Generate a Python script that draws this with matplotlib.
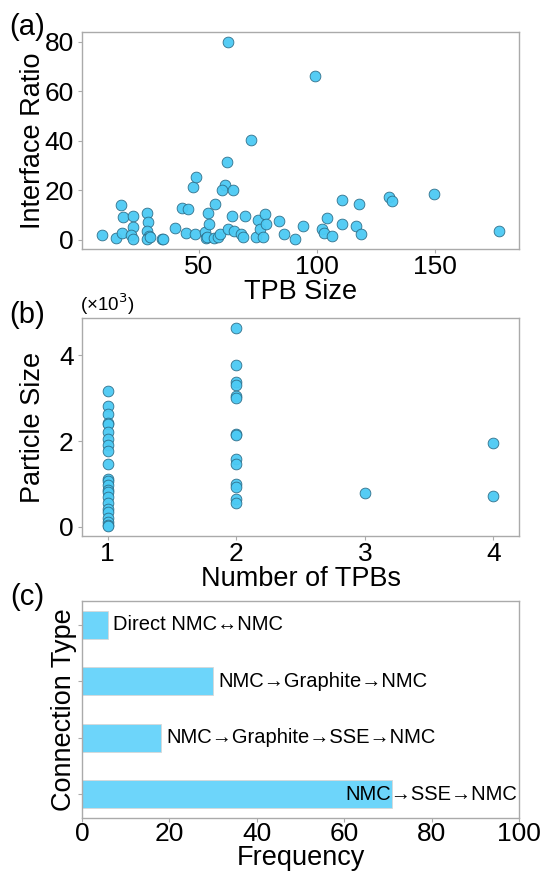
"""
Three-panel summary of TPB statistics: interface ratio vs TPB size,
particle size vs number of TPBs, and connection type frequencies.
"""

import matplotlib

matplotlib.use("Agg")
import matplotlib.pyplot as plt
from matplotlib.ticker import FuncFormatter

plt.rcParams["font.family"] = ["Liberation Sans", "DejaVu Sans"]

# (a) interface ratio vs TPB size
TPB_SIZE = [
    9, 15, 17, 18, 17.5, 22, 22, 21.5, 22, 28, 28.5, 28, 29, 28, 29.5,
    34.5, 35, 40, 43, 45.5, 44.5, 47.5, 49, 48.5, 52.5, 54, 54.5, 53, 53.5,
    57, 56.5, 58, 59, 61, 60, 62, 62.5, 62.5, 64.5, 64, 65, 68, 68.5, 69.5,
    72, 74, 75, 76, 77, 78, 78.5, 84, 86, 90.5, 94, 99, 102, 103, 104,
    106.5, 110.5, 110.5, 116.5, 117.5, 118.5, 130.5, 131.5, 149.5, 177,
]
INTERFACE_RATIO = [
    1.9, 0.7, 14.0, 9.1, 2.6, 9.7, 5.1, 2.1, 0.3, 11.0, 7.2, 3.4, 1.6, 0.3,
    1.1, 0.3, 0.3, 4.6, 13.0, 12.6, 2.6, 21.3, 25.2, 2.3, 3.0, 10.9, 6.6,
    0.7, 1.3, 14.6, 0.7, 1.3, 2.3, 22.1, 20.0, 31.4, 80.0, 4.3, 20.0, 9.8,
    3.4, 2.4, 1.3, 9.8, 40.4, 1.3, 8.1, 4.3, 1.3, 10.6, 6.4, 7.8, 2.4, 0.5,
    5.6, 66.3, 4.3, 2.6, 9.0, 1.5, 16.0, 6.6, 5.4, 14.5, 2.3, 17.4, 15.8,
    18.5, 3.4,
]

# (b) particle size vs number of TPBs
N_TPBS = [1] * 23 + [2] * 14 + [3] + [4] * 2
PARTICLE_SIZE = [
    3170, 2810, 2630, 2420, 2400, 2210, 2050, 1900, 1780, 1460, 1130, 1070,
    970, 860, 820, 700, 570, 420, 360, 200, 120, 50, 20,
    4640, 3770, 3370, 3310, 3060, 3000, 2170, 2150, 1580, 1460, 1000, 930,
    660, 570,
    800,
    1960, 730,
]

# (c) connection type frequencies (top to bottom)
CONNECTIONS = [
    "Direct NMC\u2194NMC",
    "NMC\u2192Graphite\u2192NMC",
    "NMC\u2192Graphite\u2192SSE\u2192NMC",
    "NMC\u2192SSE\u2192NMC",
]
FREQUENCY = [6, 30, 18, 71]

DOT_COLOR = "#4ccaf4"
DOT_EDGE = "#2b6a85"
BAR_COLOR = "#6dd5fa"
SPINE_COLOR = "#aaaaaa"
TICK_FS = 19
LABEL_FS = 19.5


def style_axes(ax):
    for spine in ax.spines.values():
        spine.set_color(SPINE_COLOR)
        spine.set_linewidth(1.0)
    ax.tick_params(axis="both", labelsize=TICK_FS, colors=SPINE_COLOR,
                   labelcolor="black", length=3, width=0.8)
    ax.tick_params(axis="x", pad=1)
    ax.tick_params(axis="y", pad=3)


fig = plt.figure(figsize=(5.43, 8.73), dpi=100)

left, width = 0.151, 0.805
ax_a = fig.add_axes([left, 0.7148, width, 0.2486])
ax_b = fig.add_axes([left, 0.3860, width, 0.2497])
ax_c = fig.add_axes([left, 0.0630, width, 0.2486])

# Panel (a)
ax_a.scatter(TPB_SIZE, INTERFACE_RATIO, s=60, color=DOT_COLOR,
             edgecolors=DOT_EDGE, linewidths=0.6, alpha=0.95, zorder=3)
ax_a.set_xticks([50, 100, 150])
ax_a.set_yticks([0, 20, 40, 60, 80])
ax_a.set_xlabel("TPB Size", fontsize=LABEL_FS, labelpad=0)
ax_a.set_ylabel("Interface Ratio", fontsize=LABEL_FS)
ax_a.yaxis.set_label_coords(-0.082, 0.5)
style_axes(ax_a)

# Panel (b)
ax_b.scatter(N_TPBS, PARTICLE_SIZE, s=60, color=DOT_COLOR,
             edgecolors=DOT_EDGE, linewidths=0.6, alpha=0.95, zorder=3)
ax_b.set_xlim(0.8, 4.2)
ax_b.set_xticks([1, 2, 3, 4])
ax_b.set_yticks([0, 2000, 4000])
ax_b.yaxis.set_major_formatter(FuncFormatter(lambda v, _: f"{v / 1000:g}"))
ax_b.set_xlabel("Number of TPBs", fontsize=LABEL_FS, labelpad=0)
ax_b.set_ylabel("Particle Size", fontsize=LABEL_FS)
ax_b.yaxis.set_label_coords(-0.082, 0.5)
ax_b.text(-0.005, 1.005, "(\u00d710$^3$)", transform=ax_b.transAxes,
          fontsize=13.5, ha="left", va="bottom")
style_axes(ax_b)

# Panel (c)
ypos = list(range(len(CONNECTIONS)))
ax_c.barh(ypos, FREQUENCY, height=0.5, color=BAR_COLOR,
          edgecolor="#d8d8d8", linewidth=0.6, zorder=2)
ax_c.invert_yaxis()
ax_c.set_xlim(0, 100)
ax_c.set_yticks(ypos)
ax_c.set_yticklabels([])
for y, (name, val) in enumerate(zip(CONNECTIONS, FREQUENCY)):
    if val > 50:
        ax_c.text(99.5, y, name, fontsize=14.5, ha="right", va="center",
                  zorder=4)
    else:
        ax_c.text(val + 1.2, y, name, fontsize=14.5, ha="left", va="center",
                  zorder=4)
ax_c.set_xlabel("Frequency", fontsize=LABEL_FS, labelpad=-0.5)
ax_c.set_ylabel("Connection Type", fontsize=LABEL_FS)
ax_c.yaxis.set_label_coords(-0.012, 0.5)
style_axes(ax_c)
ax_c.tick_params(axis="x", pad=0)

# Panel letters
for label, ypix in [("(a)", 27), ("(b)", 315), ("(c)", 597)]:
    fig.text(27 / 543, 1 - ypix / 873, label, fontsize=21,
             ha="center", va="center")

fig.savefig("out.png", dpi=100)
